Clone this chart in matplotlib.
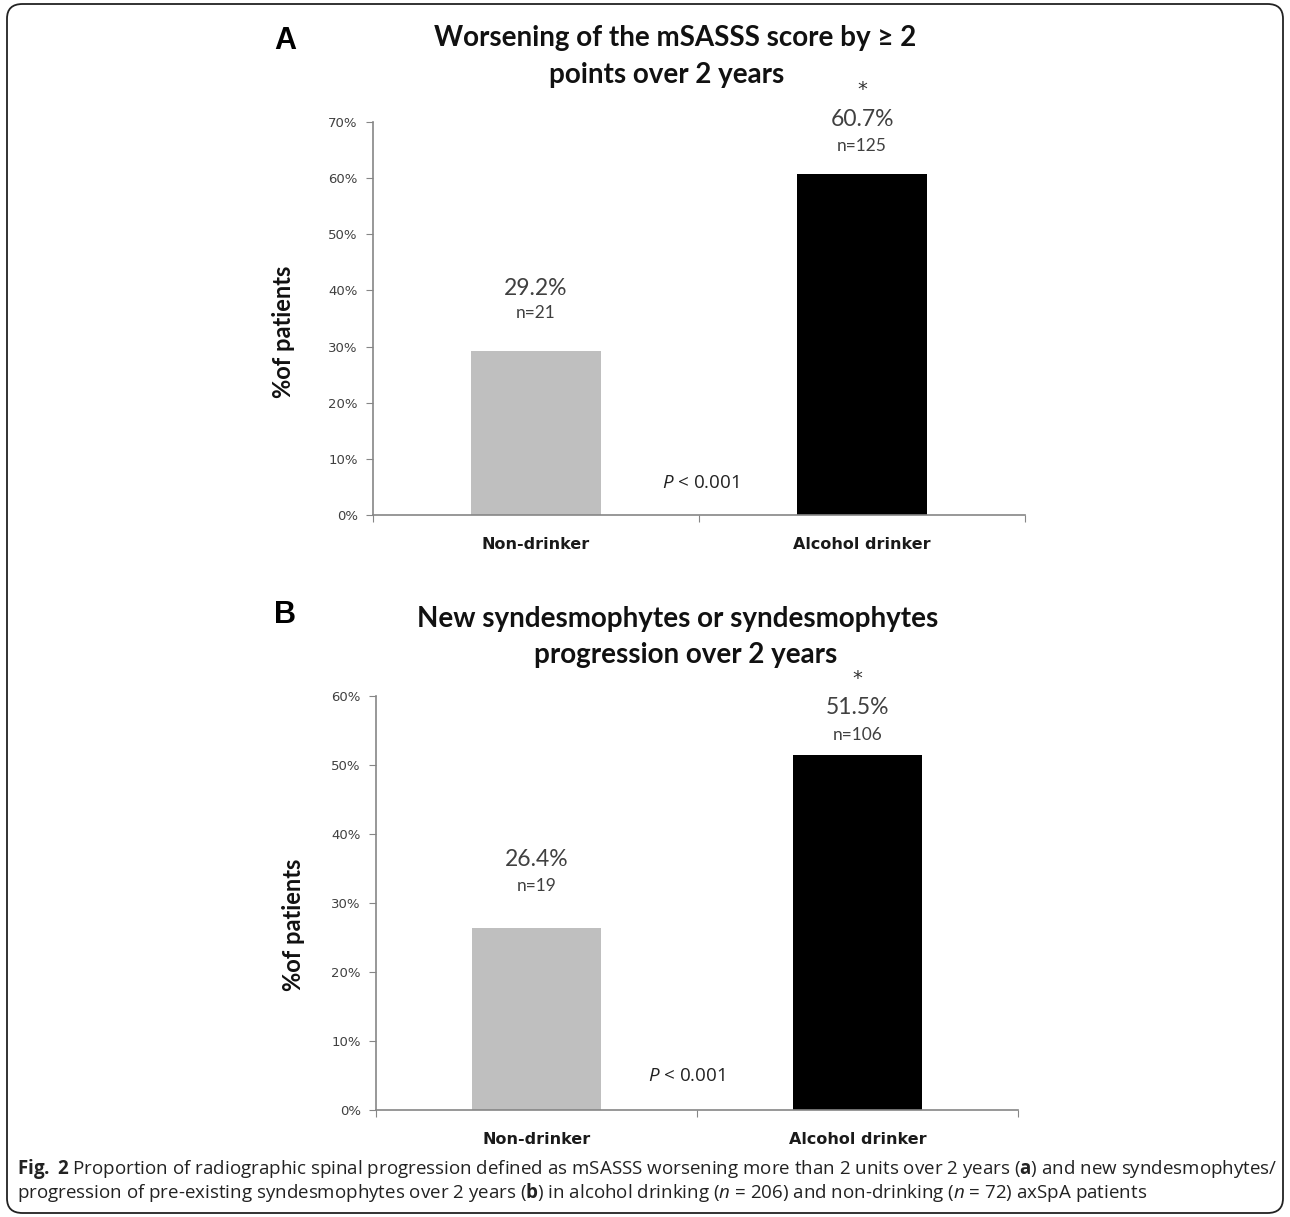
import matplotlib
matplotlib.use("Agg")
import matplotlib.pyplot as plt
from matplotlib.patches import FancyBboxPatch

# =========================
# Data
# =========================
categories = ["Non-drinker", "Alcohol drinker"]

pct_a = [29.2, 60.7]
n_a = [21, 125]
title_a = ["Worsening of the mSASSS score by \u2265 2", "points over 2 years"]
yticks_a = [0, 10, 20, 30, 40, 50, 60, 70]

pct_b = [26.4, 51.5]
n_b = [19, 106]
title_b = ["New syndesmophytes or syndesmophytes", "progression over 2 years"]
yticks_b = [0, 10, 20, 30, 40, 50, 60]

significant = [False, True]
p_text = "$P$ < 0.001"

caption_1 = (r"$\mathbf{Fig.}$ $\mathbf{2}$ Proportion of radiographic spinal progression defined as "
             r"mSASSS worsening more than 2 units over 2 years ($\mathbf{a}$) and new syndesmophytes/")
caption_2 = (r"progression of pre-existing syndesmophytes over 2 years ($\mathbf{b}$) in alcohol "
             r"drinking ($n$ = 206) and non-drinking ($n$ = 72) axSpA patients")

# =========================
# Style
# =========================
plt.rcParams['mathtext.fontset'] = 'custom'
plt.rcParams['mathtext.rm'] = 'Open Sans'
plt.rcParams['mathtext.it'] = 'Open Sans:italic'
plt.rcParams['mathtext.bf'] = 'Open Sans:bold'

bar_colors = ["#bfbfbf", "#000000"]
axis_grey = "#868686"
text_grey = "#404040"

W, H = 1290, 1217
fig = plt.figure(figsize=(W / 100, H / 100), dpi=100)


def px_rect(x0, x1, ytop, ybot):
    return [x0 / W, 1 - ybot / H, (x1 - x0) / W, (ybot - ytop) / H]


def panel(rect, pct, counts, yticks, title, letter, title_y, letter_y,
          ylab_xy, offsets, p_xy):
    ax = fig.add_axes(rect)
    x = [0.5, 1.5]
    ax.bar(x, pct, width=0.4, color=bar_colors, zorder=2)
    ax.set_xlim(0, 2)
    ax.set_ylim(yticks[0], yticks[-1])

    ax.set_yticks(yticks)
    ax.set_yticklabels([f"{t}%" for t in yticks], fontsize=9.5,
                       family="DejaVu Sans", color=text_grey)
    ax.set_xticks([0, 1, 2])
    ax.set_xticklabels([])
    ax.set_xticks(x, minor=True)
    ax.set_xticklabels(categories, minor=True, fontsize=11.5,
                       family="DejaVu Sans", fontweight="bold", color="#1a1a1a")
    ax.tick_params(axis="x", which="minor", length=0, pad=16)
    ax.tick_params(axis="x", which="major", length=5, color=axis_grey)
    ax.tick_params(axis="y", length=5, color=axis_grey, pad=6)

    for s in ["top", "right"]:
        ax.spines[s].set_visible(False)
    for s in ["left", "bottom"]:
        ax.spines[s].set_color(axis_grey)
        ax.spines[s].set_linewidth(1.2)

    ax.set_ylabel("%of patients", fontsize=17, family="Lato",
                  fontweight="bold", color="#111111")
    ax.yaxis.set_label_coords(*ylab_xy)

    # value labels above bars
    for i, (xi, v, n) in enumerate(zip(x, pct, counts)):
        o_val, o_n, o_star = offsets[i]
        ax.annotate(f"{v}%", (xi, v), xytext=(0, o_val), textcoords="offset pixels",
                    ha="center", va="center", fontsize=16.5, family="Lato",
                    color=text_grey)
        ax.annotate(f"n={n}", (xi, v), xytext=(0, o_n), textcoords="offset pixels",
                    ha="center", va="center", fontsize=12.5, family="Lato",
                    color=text_grey)
        if significant[i]:
            ax.annotate("*", (xi, v), xytext=(0, o_star), textcoords="offset pixels",
                        ha="center", va="center", fontsize=14,
                        family="DejaVu Sans", color="#333333")

    fig.text(p_xy[0] / W, 1 - p_xy[1] / H, p_text, ha="center", va="center",
             fontsize=13.5, family="Open Sans", color="#222222")

    for k, line in enumerate(title):
        fig.text(title_y[k][0] / W, 1 - title_y[k][1] / H, line, ha="center",
                 va="center", fontsize=20, family="Lato", fontweight="bold",
                 color="#111111")
    fig.text(285 / W, 1 - letter_y / H, letter, ha="center", va="center",
             fontsize=22, family="Liberation Sans", fontweight="bold")
    return ax


panel(px_rect(373, 1025, 122, 515), pct_a, n_a, yticks_a, title_a, "A",
      [(675, 38), (667, 75)], 41, (-0.12, 0.466),
      [(63, 38, 0), (55, 28, 85)], (700, 483))
panel(px_rect(376, 1018, 696, 1110), pct_b, n_b, yticks_b, title_b, "B",
      [(678, 619), (686, 655)], 615, (-0.11, 0.447),
      [(68, 42, 0), (47, 20, 76)], (686, 1076))

fig.text(17 / W, 1 - 1169 / H, caption_1, ha="left", va="center",
         fontsize=13.5, family="Open Sans", color="#222222")
fig.text(17 / W, 1 - 1193 / H, caption_2, ha="left", va="center",
         fontsize=13.5, family="Open Sans", color="#222222")

border = FancyBboxPatch((7 / W, 4 / H), (1283 - 7) / W, (1213 - 4) / H,
                        boxstyle="round,pad=0,rounding_size=0.012",
                        transform=fig.transFigure, facecolor="none",
                        edgecolor="#222222", linewidth=1.3)
fig.patches.append(border)

fig.savefig("out.png", dpi=100)
